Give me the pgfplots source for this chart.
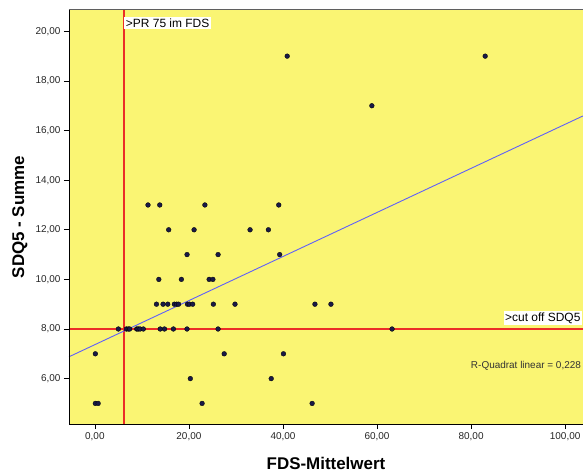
\documentclass[border=0pt]{standalone}
\usepackage{pgfplots}
\pgfplotsset{compat=1.18}
\usepackage{fontspec}
\setmainfont{Liberation Sans}
\definecolor{bgyellow}{RGB}{250,245,115}
\definecolor{dotcol}{RGB}{25,25,70}
\definecolor{fitblue}{RGB}{95,95,250}
\definecolor{refred}{RGB}{235,45,40}
\definecolor{framegray}{RGB}{95,95,95}

\begin{document}
\begin{tikzpicture}
\begin{axis}[
    at={(0,0)}, anchor=south west,
    scale only axis,
    width=514bp, height=414bp,
    xmin=-5.5, xmax=103.8,
    ymin=4.17, ymax=20.86,
    clip=false,
    axis background/.style={fill=bgyellow},
    axis line style={draw=none},
    tick align=outside,
    xtick pos=left, ytick pos=left,
    major tick length=5bp,
    tick style={black, line width=0.6pt},
    xtick={0,20,40,60,80,100},
    ytick={6,8,10,12,14,16,18,20},
    ticklabel style={font=\fontsize{10}{12}\selectfont, text=black!85},
    /pgf/number format/fixed,
    /pgf/number format/fixed zerofill,
    /pgf/number format/precision=2,
    /pgf/number format/use comma,
    /pgf/number format/assume math mode=true,
]

% reference lines
\addplot[refred, line width=1.5pt] coordinates {(6.17,4.17) (6.17,20.86)};
\addplot[refred, line width=1.5pt] coordinates {(-5.5,8) (103.8,8)};

% linear fit
\addplot[fitblue, line width=0.9pt] coordinates {(-5.5,6.88) (103.8,16.59)};

% data points
\addplot[only marks, mark=*, mark size=2.4bp,
    mark options={fill=dotcol, draw=black, line width=0.3pt}] coordinates {
    (40.9,19) (83.0,19)
    (58.9,17)
    (11.3,13) (13.8,13) (23.4,13) (39.1,13)
    (15.7,12) (21.1,12) (33.0,12) (36.9,12)
    (19.6,11) (26.2,11) (39.3,11)
    (13.6,10) (18.4,10) (24.3,10) (25.1,10)
    (13.1,9) (14.5,9) (15.5,9) (16.9,9) (17.4,9) (17.8,9) (19.7,9)
    (20.1,9) (20.8,9) (25.2,9) (29.8,9) (46.8,9) (50.2,9)
    (5.0,8) (6.7,8) (7.1,8) (7.4,8) (8.9,8) (9.2,8) (9.6,8) (10.3,8)
    (13.9,8) (14.8,8) (16.7,8) (19.6,8) (26.2,8) (63.2,8)
    (0.1,7) (27.5,7) (40.1,7)
    (20.3,6) (37.5,6)
    (0.1,5) (0.7,5) (22.8,5) (46.2,5)
};

% annotations
\node[anchor=north west, fill=white, inner sep=1.5bp,
    font=\fontsize{12}{14}\selectfont] at (axis cs:6.25,20.57) {>PR 75 im FDS};
\node[anchor=south west, fill=white, inner sep=1.5bp,
    font=\fontsize{12}{14}\selectfont] at (axis cs:86.9,8.16) {>cut off SDQ5};
\node[anchor=east, inner sep=0pt, text=black!80,
    font=\fontsize{10}{12}\selectfont] at (axis cs:103.4,6.51) {R-Quadrat linear = 0,228};

% frame
\draw[framegray, line width=1pt] (rel axis cs:0,1) -- (rel axis cs:1,1);
\draw[black, line width=0.9pt] (rel axis cs:0,1) -- (rel axis cs:0,0) -- (rel axis cs:1,0);

% axis titles
\node[font=\fontsize{17}{20}\selectfont\bfseries] at ([yshift=-39bp]rel axis cs:0.5,0) {FDS-Mittelwert};
\node[rotate=90, font=\fontsize{17}{20}\selectfont\bfseries] at ([xshift=-49bp]rel axis cs:0,0.5) {SDQ5 - Summe};
\end{axis}
\pgfresetboundingbox
\path[use as bounding box] (-69bp,-48bp) rectangle (514bp,424bp);
\end{tikzpicture}
\end{document}
